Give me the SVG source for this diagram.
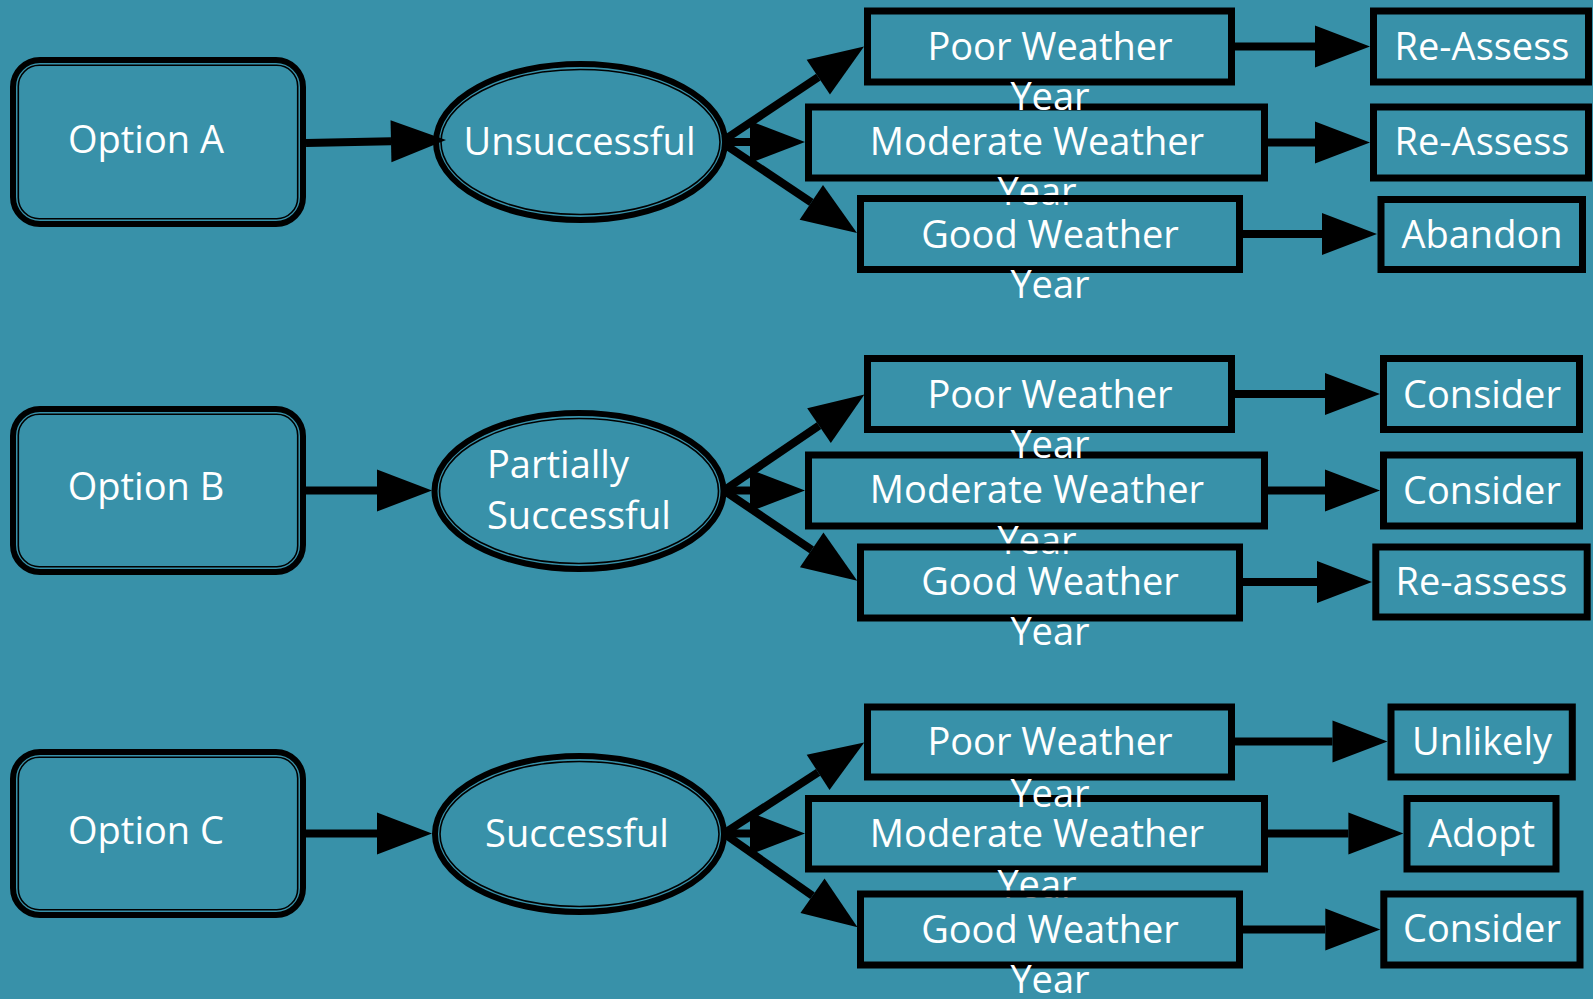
<svg xmlns="http://www.w3.org/2000/svg" width="1593" height="999" viewBox="0 0 1593 999">
<style>
.t{font-family:"Open Sans","Noto Sans",sans-serif;font-size:38px;fill:#ffffff;text-anchor:middle}
.tl{font-family:"Open Sans","Noto Sans",sans-serif;font-size:38px;fill:#ffffff;text-anchor:start}
.b{fill:none;stroke:#000;stroke-width:7}
.ob{fill:none;stroke:#000;stroke-width:6}
.ib{fill:none;stroke:#000;stroke-width:1.6}
.e{fill:none;stroke:#000;stroke-width:8;marker-end:url(#ah)}
</style>
<defs>
<marker id="ah" markerUnits="userSpaceOnUse" markerWidth="56" markerHeight="42" refX="0" refY="21" orient="auto" overflow="visible">
<path d="M0,0 L55,21 L0,42 Z" fill="#000"/>
</marker>
</defs>
<rect width="1593" height="999" fill="#3891A9"/>

<g id="connectors">
<line class="e" x1="306" y1="143" x2="391" y2="141.2"/>
<line class="e" x1="306" y1="490.5" x2="377" y2="490.5"/>
<line class="e" x1="306" y1="833.5" x2="377" y2="833.5"/>

<line class="e" x1="724" y1="140" x2="818.3" y2="77.1"/>
<line class="e" x1="724" y1="142" x2="750" y2="142"/>
<line class="e" x1="724" y1="144" x2="811.3" y2="202.4"/>

<line class="e" x1="726" y1="489" x2="819" y2="425.6"/>
<line class="e" x1="726" y1="490.5" x2="750" y2="490.5"/>
<line class="e" x1="726" y1="492" x2="811.7" y2="549.9"/>

<line class="e" x1="726" y1="832" x2="818.1" y2="772.3"/>
<line class="e" x1="726" y1="833.5" x2="750" y2="833.5"/>
<line class="e" x1="726" y1="835" x2="812.5" y2="895.7"/>

<line class="e" x1="1235" y1="46.5" x2="1315" y2="46.5"/>
<line class="e" x1="1268" y1="142.5" x2="1315" y2="142.5"/>
<line class="e" x1="1243" y1="234" x2="1322" y2="234"/>

<line class="e" x1="1235" y1="394" x2="1325" y2="394"/>
<line class="e" x1="1268" y1="490.5" x2="1325" y2="490.5"/>
<line class="e" x1="1243" y1="582" x2="1317" y2="582"/>

<line class="e" x1="1235" y1="741.5" x2="1332.5" y2="741.5"/>
<line class="e" x1="1268" y1="833.5" x2="1348.4" y2="833.5"/>
<line class="e" x1="1243" y1="929.5" x2="1325.3" y2="929.5"/>
</g>

<g id="optionA">
<rect class="ob" x="13" y="60" width="290" height="164" rx="27"/>
<rect class="ib" x="18.3" y="65.3" width="279.4" height="153.4" rx="21"/>
<text class="t" x="146" y="153">Option A</text>
</g>
<g id="optionB">
<rect class="ob" x="13" y="409" width="290" height="163" rx="27"/>
<rect class="ib" x="18.3" y="414.3" width="279.4" height="152.4" rx="21"/>
<text class="t" x="146" y="500">Option B</text>
</g>
<g id="optionC">
<rect class="ob" x="13" y="752" width="290" height="163" rx="27"/>
<rect class="ib" x="18.3" y="757.3" width="279.4" height="152.4" rx="21"/>
<text class="t" x="146" y="844">Option C</text>
</g>

<g id="unsuccessful">
<ellipse class="ob" cx="580.5" cy="142" rx="144.5" ry="78"/>
<ellipse class="ib" cx="580.5" cy="142" rx="139.5" ry="72.5"/>
<text class="t" x="579.5" y="155">Unsuccessful</text>
</g>
<g id="partially">
<ellipse class="ob" cx="579" cy="491" rx="144.5" ry="78"/>
<ellipse class="ib" cx="579" cy="491" rx="139.5" ry="72.5"/>
<text class="tl" x="487" y="478">Partially</text>
<text class="tl" x="487" y="529">Successful</text>
</g>
<g id="successful">
<ellipse class="ob" cx="579.5" cy="834" rx="144.5" ry="78"/>
<ellipse class="ib" cx="579.5" cy="834" rx="139.5" ry="72.5"/>
<text class="t" x="577" y="846.7">Successful</text>
</g>

<g id="modA">
<rect class="b" x="808.5" y="107" width="456" height="71"/>
<text class="t" x="1037" y="155">Moderate Weather</text>
<text class="t" x="1037" y="205">Year</text>
</g>
<g id="poorA">
<rect class="b" x="867.5" y="11" width="364" height="71"/>
<text class="t" x="1050" y="60">Poor Weather</text>
<text class="t" x="1050" y="110">Year</text>
</g>
<g id="goodA">
<rect class="b" x="860.5" y="198.5" width="379" height="71"/>
<text class="t" x="1050" y="248.3">Good Weather</text>
<text class="t" x="1050" y="298.3">Year</text>
</g>

<g id="modB">
<rect class="b" x="808.5" y="455" width="456" height="71"/>
<text class="t" x="1037" y="503.3">Moderate Weather</text>
<text class="t" x="1037" y="554">Year</text>
</g>
<g id="poorB">
<rect class="b" x="867.5" y="358.5" width="364" height="71"/>
<text class="t" x="1050" y="408.3">Poor Weather</text>
<text class="t" x="1050" y="458">Year</text>
</g>
<g id="goodB">
<rect class="b" x="860.5" y="547" width="379" height="71"/>
<text class="t" x="1050" y="595">Good Weather</text>
<text class="t" x="1050" y="645">Year</text>
</g>

<g id="modC">
<rect class="b" x="808.5" y="798.5" width="456" height="70.5"/>
<text class="t" x="1037" y="846.7">Moderate Weather</text>
<text class="t" x="1037" y="898">Year</text>
</g>
<g id="poorC">
<rect class="b" x="867.5" y="707" width="364" height="70"/>
<text class="t" x="1050" y="755">Poor Weather</text>
<text class="t" x="1050" y="806.7">Year</text>
</g>
<g id="goodC">
<rect class="b" x="860.5" y="894" width="379" height="71"/>
<text class="t" x="1050" y="942.7">Good Weather</text>
<text class="t" x="1050" y="993">Year</text>
</g>

<g id="reassessA1">
<rect class="b" x="1373.5" y="11" width="215" height="71"/>
<text class="t" x="1482" y="60">Re-Assess</text>
</g>
<g id="reassessA2">
<rect class="b" x="1373.5" y="107" width="215" height="71"/>
<text class="t" x="1482" y="155">Re-Assess</text>
</g>
<g id="abandonA">
<rect class="b" x="1381" y="199.5" width="201.5" height="70"/>
<text class="t" x="1482" y="248.3">Abandon</text>
</g>

<g id="considerB1">
<rect class="b" x="1383.5" y="358.5" width="196" height="71"/>
<text class="t" x="1482" y="408.3">Consider</text>
</g>
<g id="considerB2">
<rect class="b" x="1383.5" y="455" width="196" height="71"/>
<text class="t" x="1482" y="504">Consider</text>
</g>
<g id="reassessB">
<rect class="b" x="1375.8" y="547" width="211.4" height="70"/>
<text class="t" x="1481.5" y="595">Re-assess</text>
</g>

<g id="unlikelyC">
<rect class="b" x="1391" y="707" width="181.3" height="70"/>
<text class="t" x="1482" y="755">Unlikely</text>
</g>
<g id="adoptC">
<rect class="b" x="1407" y="798.5" width="149" height="70.5"/>
<text class="t" x="1481.5" y="846.7">Adopt</text>
</g>
<g id="considerC">
<rect class="b" x="1383.8" y="894" width="196.2" height="71"/>
<text class="t" x="1482" y="941.7">Consider</text>
</g>
</svg>
